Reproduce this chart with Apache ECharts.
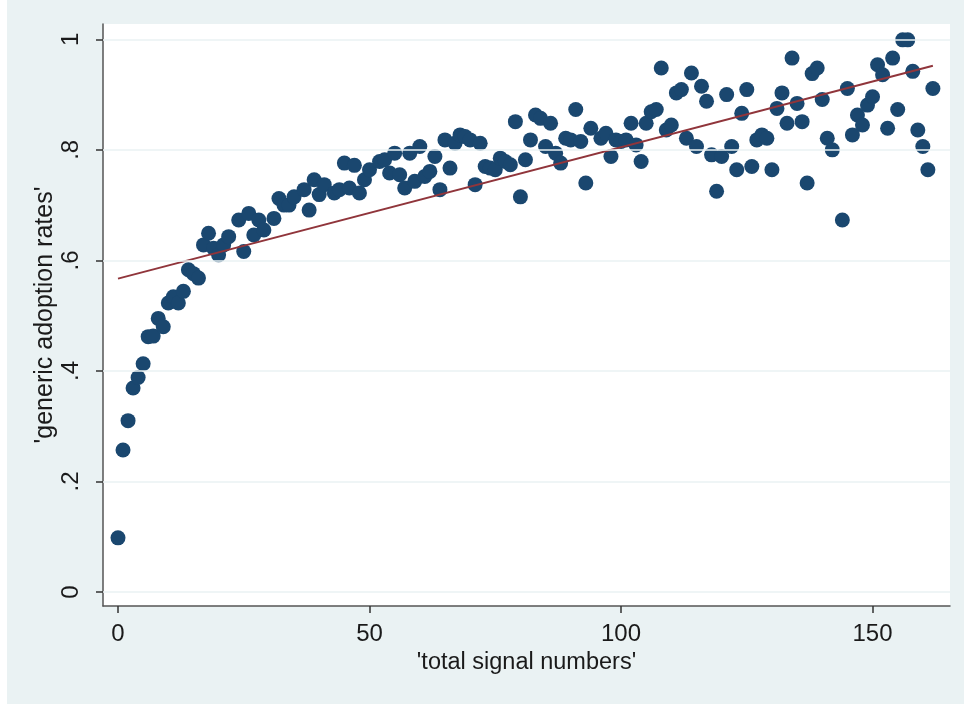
<!DOCTYPE html>
<html>
<head>
<meta charset="utf-8">
<script src="https://cdn.jsdelivr.net/npm/echarts@6/dist/echarts.min.js"></script>
<style>
  html, body { margin: 0; padding: 0; background: #ffffff; }
  #chart { width: 964px; height: 704px; }
</style>
</head>
<body>
<div id="chart"></div>
<script>
// Observations: total signal numbers and generic adoption rates
const signalTotals = [
  0, 1, 2, 3, 4, 5, 6, 7, 8, 9, 10, 11, 12, 13, 14, 15, 16, 17, 18, 19, 20, 21,
  22, 24, 25, 26, 27, 28, 29, 31, 32, 33, 34, 35, 37, 38, 39, 40, 41, 43, 44, 45,
  46, 47, 48, 49, 50, 52, 53, 54, 55, 56, 57, 58, 59, 60, 61, 62, 63, 64, 65, 66,
  67, 68, 69, 70, 71, 72, 73, 74, 75, 76, 77, 78, 79, 80, 81, 82, 83, 84, 85, 86,
  87, 88, 89, 90, 91, 92, 93, 94, 96, 97, 98, 99, 100, 101, 102, 103, 104, 105,
  106, 107, 108, 109, 110, 111, 112, 113, 114, 115, 116, 117, 118, 119, 120, 121,
  122, 123, 124, 125, 126, 127, 128, 129, 130, 131, 132, 133, 134, 135, 136, 137,
  138, 139, 140, 141, 142, 144, 145, 146, 147, 148, 149, 150, 151, 152, 153, 154,
  155, 156, 157, 158, 159, 160, 161, 162
];
const adoptionRates = [
  0.098, 0.257, 0.310, 0.369, 0.388, 0.413, 0.462, 0.463, 0.495, 0.480, 0.523, 0.534,
  0.523, 0.544, 0.583, 0.576, 0.568, 0.628, 0.649, 0.622, 0.610, 0.628,
  0.643, 0.673, 0.616, 0.685, 0.646, 0.673, 0.655, 0.676, 0.712, 0.700, 0.700, 0.715,
  0.728, 0.691, 0.746, 0.719, 0.737, 0.722, 0.728, 0.776,
  0.731, 0.772, 0.722, 0.746, 0.764, 0.779, 0.782, 0.758, 0.794, 0.755, 0.731, 0.794,
  0.743, 0.806, 0.752, 0.761, 0.788, 0.728, 0.818, 0.767,
  0.812, 0.827, 0.824, 0.818, 0.737, 0.812, 0.770, 0.767, 0.764, 0.785, 0.779, 0.773,
  0.851, 0.715, 0.782, 0.818, 0.863, 0.857, 0.806, 0.848,
  0.794, 0.776, 0.821, 0.818, 0.873, 0.815, 0.740, 0.839, 0.821, 0.830, 0.788, 0.818,
  0.815, 0.818, 0.848, 0.809, 0.779, 0.848,
  0.869, 0.873, 0.948, 0.836, 0.845, 0.903, 0.909, 0.821, 0.939, 0.806, 0.915, 0.888,
  0.791, 0.725, 0.788, 0.900,
  0.806, 0.764, 0.866, 0.909, 0.770, 0.818, 0.827, 0.821, 0.764, 0.875, 0.903, 0.848,
  0.966, 0.884, 0.851, 0.740,
  0.938, 0.948, 0.891, 0.821, 0.800, 0.673, 0.911, 0.827, 0.863, 0.845, 0.881, 0.896,
  0.954, 0.936, 0.839, 0.966,
  0.873, 0.999, 0.999, 0.942, 0.836, 0.806, 0.764, 0.911
];

// Linear fit, drawn between its two end points
const fitSignals = [0, 162];
const fitRates = [0.567, 0.952];

// Axis ticks
const xTicks = [0, 50, 100, 150];
const yTicks = [0, 0.2, 0.4, 0.6, 0.8, 1];
const yTickLabels = ['0', '.2', '.4', '.6', '.8', '1'];

const FONT = 'Liberation Sans, Arial, sans-serif';
const INK = '#1a1a1a';
const PANEL = '#eaf2f3';

const points = signalTotals.map((s, i) => [s, adoptionRates[i]]);
const fitLine = fitSignals.map((s, i) => [s, fitRates[i]]);

const chart = echarts.init(document.getElementById('chart'), null, { renderer: 'canvas' });

chart.setOption({
  animation: false,
  backgroundColor: PANEL,
  graphic: [
    { type: 'rect', left: 0, top: 0, z: -10, shape: { width: 7, height: 704 }, style: { fill: '#ffffff' } }
  ],
  grid: {
    left: 103, top: 24, right: 14, bottom: 98,
    show: true, backgroundColor: '#ffffff', borderWidth: 0
  },
  xAxis: {
    type: 'value',
    min: -2.98, max: 165.4,
    name: "'total signal numbers'",
    nameLocation: 'middle',
    nameGap: 45,
    nameMoveOverlap: false,
    nameTextStyle: { fontFamily: FONT, fontSize: 23.5, color: INK },
    axisLine: { show: true, onZero: false, lineStyle: { color: '#555555', width: 1.5 } },
    axisTick: { show: true, customValues: xTicks, length: 7, lineStyle: { color: '#333333', width: 1.5 } },
    axisLabel: {
      customValues: xTicks, margin: 16,
      fontFamily: FONT, fontSize: 24, color: INK
    },
    splitLine: { show: false }
  },
  yAxis: {
    type: 'value',
    min: -0.0253, max: 1.0277,
    name: "'generic adoption rates'",
    nameLocation: 'middle',
    nameRotate: 90,
    nameGap: 45,
    nameMoveOverlap: false,
    nameTextStyle: { fontFamily: FONT, fontSize: 25, color: INK },
    axisLine: { show: true, onZero: false, lineStyle: { color: '#555555', width: 1.5 } },
    axisTick: { show: true, customValues: yTicks, length: 7, lineStyle: { color: '#333333', width: 1.5 } },
    axisLabel: {
      customValues: yTicks, rotate: 90, margin: 20,
      fontFamily: FONT, fontSize: 24, color: INK,
      formatter: v => {
        const k = yTicks.findIndex(t => Math.abs(t - v) < 1e-9);
        return k >= 0 ? yTickLabels[k] : '';
      }
    },
    splitLine: { show: false }
  },
  series: [
    {
      // horizontal reference lines at the y ticks
      type: 'line', data: [], z: 1, silent: true,
      markLine: {
        silent: true, symbol: 'none', label: { show: false },
        lineStyle: { color: PANEL, width: 1.5, type: 'solid' },
        data: yTicks.map(v => ({ yAxis: v }))
      }
    },
    {
      type: 'scatter', data: points, z: 3,
      symbol: 'circle', symbolSize: 15,
      itemStyle: { color: '#1a476f', opacity: 1 }
    },
    {
      type: 'line', data: fitLine, z: 4,
      symbol: 'none',
      lineStyle: { color: '#90353b', width: 2 }
    }
  ]
});
</script>
</body>
</html>
